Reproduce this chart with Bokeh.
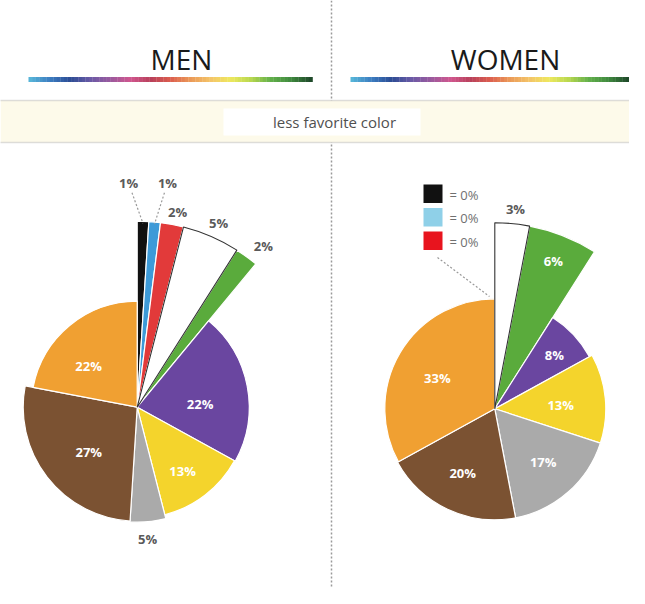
import numpy as np
from bokeh.plotting import figure
from bokeh.models import Range1d, ColumnDataSource
from bokeh.embed import file_html
from bokeh.resources import INLINE
from bokeh.core.properties import value

# ---------------- data ----------------
categories = ["black", "blue", "red", "white", "green", "purple", "yellow", "gray", "brown", "orange"]
men_values = [1, 1, 2, 5, 2, 22, 13, 5, 27, 22]
women_values = [0, 0, 0, 3, 6, 8, 13, 17, 20, 33]
titles = ["MEN", "WOMEN"]
subtitle = "less favorite color"

# ---------------- styles / layout ----------------
FONT = value("Open Sans")
men_fill = ["#111111", "#3d9ad8", "#e23a3a", "#ffffff", "#5aab3c", "#6a46a0",
            "#f4d42c", "#aaaaaa", "#7b5232", "#f0a032"]
women_fill = ["#111111", "#8fd0e8", "#e8141e", "#ffffff", "#5aab3c", "#6a46a0",
              "#f4d42c", "#aaaaaa", "#7b5232", "#f0a032"]
men_radius = [186, 186, 186, 186, 186, 112, 111, 115, 114, 106]
women_radius = [186, 186, 186, 186, 186, 108, 111, 111, 111, 110]
men_label_r = [224, 226, 199, 201, 205, 63, 78, 132, 66, 64]
men_label_da = [-4, 2.3, 0.9, 0.5, 2, 7.5, 2.2, 0.9, -5, -9.8]
men_label_in = [False, False, False, False, False, True, True, False, True, True]
women_label_r = [0, 0, 0, 201, 159, 80, 66, 72, 72, 65]
women_label_da = [0, 0, 0, 0.5, 0, 1.4, 2.4, -0.8, 1.3, -2.7]
women_label_in = [False, False, False, False, True, True, True, True, True, True]

W, H = 629, 588
p = figure(width=W, height=H, output_backend="svg", toolbar_location=None,
           x_range=Range1d(0, W), y_range=Range1d(604 - H, 604),
           min_border=0, background_fill_color="white", border_fill_color="white")
p.axis.visible = False
p.grid.visible = False
p.outline_line_color = None


def Y(ry):
    # reference pixel row -> data y
    return 604 - ry


# vertical dotted divider
p.segment(x0=[331], y0=[Y(0)], x1=[331], y1=[Y(604)], line_color="#9a9a9a",
          line_width=1.5, line_dash="2 2")

# titles
p.text(x=[181, 505], y=[Y(58), Y(58)], text=titles, text_font=FONT, text_font_size="28px",
       text_color="#1a1a1a", text_align="center", text_baseline="middle")


# rainbow bars
stops = ["#56b4d8", "#3b7cc0", "#2c4c94", "#6a5aa6", "#9a5a9e", "#d0568e",
         "#b8405a", "#dc5e4e", "#eb9a58", "#f4c468", "#eee85e", "#b8d84e",
         "#62b04a", "#3f8a3e", "#1f4a2a"]


def hex2rgb(h):
    return np.array([int(h[i:i + 2], 16) for i in (1, 3, 5)], dtype=float)


def interp_colors(n):
    rgb = [hex2rgb(s) for s in stops]
    out = []
    for i in range(n):
        t = i / (n - 1) * (len(rgb) - 1)
        k = min(int(t), len(rgb) - 2)
        f = t - k
        c = rgb[k] * (1 - f) + rgb[k + 1] * f
        out.append("#%02x%02x%02x" % tuple(int(round(v)) for v in c))
    return out


nseg = 80
seg_cols = interp_colors(nseg)
for x0, x1 in [(28, 312), (350, 629)]:
    edges = np.linspace(x0, x1, nseg + 1)
    p.quad(left=edges[:-1], right=edges[1:] + 0.3, bottom=Y(81.5), top=Y(76.5),
           fill_color=seg_cols, line_color=None)

# band
p.quad(left=[0], right=[645], bottom=[Y(142)], top=[Y(100)], fill_color="#fdfaea", line_color=None)
p.segment(x0=[0, 0], y0=[Y(100), Y(142)], x1=[645, 645], y1=[Y(100), Y(142)],
          line_color="#bdbdbd", line_width=1.5, line_dash="1 1")
p.quad(left=[223], right=[420], bottom=[Y(135)], top=[Y(108)], fill_color="white", line_color=None)
p.text(x=[334], y=[Y(121)], text=[subtitle], text_font=FONT, text_font_size="15px",
       text_color="#505050", text_align="center", text_baseline="middle")


def draw_pie(cx, cy_ref, vals, fills, radii, lab_r, lab_da, lab_in):
    cy = Y(cy_ref)
    vals = np.array(vals, dtype=float)
    cum = np.concatenate([[0], np.cumsum(vals)])
    a0 = cum[:-1] / cum[-1] * 2 * np.pi
    a1 = cum[1:] / cum[-1] * 2 * np.pi
    keep = vals > 0
    src = ColumnDataSource(dict(
        x=[cx] * int(keep.sum()), y=[cy] * int(keep.sum()),
        r=list(np.array(radii)[keep]),
        s=list((np.pi / 2 - a1)[keep]), e=list((np.pi / 2 - a0)[keep]),
        fill=list(np.array(fills)[keep]),
    ))
    p.wedge(x="x", y="y", radius="r", start_angle="s", end_angle="e", fill_color="fill",
            line_color="white", line_width=1.2, source=src)
    # outline for white slice
    wi = categories.index("white")
    if vals[wi] > 0:
        p.wedge(x=cx, y=cy, radius=radii[wi], start_angle=np.pi / 2 - a1[wi],
                end_angle=np.pi / 2 - a0[wi], fill_color="white", line_color="#333333",
                line_width=1.1)
    # labels
    lx, ly, lt, lc = [], [], [], []
    pos = {}
    for i, v in enumerate(vals):
        if v <= 0:
            continue
        m = (a0[i] + a1[i]) / 2 + np.deg2rad(lab_da[i])
        x = cx + lab_r[i] * np.sin(m)
        y = cy + lab_r[i] * np.cos(m)
        pos[i] = (x, y, (a0[i] + a1[i]) / 2)
        lx.append(x)
        ly.append(y)
        lt.append("%d%%" % v)
        lc.append("white" if lab_in[i] else "#5a5a5a")
    p.text(x=lx, y=ly, text=lt, text_font=FONT, text_font_size="13px", text_font_style="bold",
           text_color=lc, text_align="center", text_baseline="middle")
    return cx, cy, pos, radii, a0, a1


# MEN pie
mcx, mcy, mpos, mr, ma0, ma1 = draw_pie(136.7, 406.7, men_values, men_fill, men_radius,
                                        men_label_r, men_label_da, men_label_in)
# leader lines for the two 1% labels
for i in (0, 1):
    lxp, lyp, mid = mpos[i]
    tx = mcx + (mr[i] - 2) * np.sin(mid)
    ty = mcy + (mr[i] - 2) * np.cos(mid)
    d = np.array([tx - lxp, ty - lyp])
    u = d / np.linalg.norm(d)
    p.line(x=[lxp + u[0] * 10, tx], y=[lyp + u[1] * 10, ty], line_color="#9a9a9a",
           line_width=1.2, line_dash="2 2")

# WOMEN pie
wcx, wcy, wpos, wr, wa0, wa1 = draw_pie(494.3, 408.3, women_values, women_fill, women_radius,
                                        women_label_r, women_label_da, women_label_in)

# legend for zero-valued women slices
zero_idx = [i for i, v in enumerate(women_values) if v == 0]
sq_top = [184, 207.5, 231]
for k, i in enumerate(zero_idx):
    p.quad(left=[423], right=[442], top=[Y(sq_top[k])], bottom=[Y(sq_top[k] + 18.5)],
           fill_color=women_fill[i], line_color=None)
    p.text(x=[449], y=[Y(sq_top[k] + 10)], text=["= %d%%" % women_values[i]], text_font=FONT,
           text_font_size="13px", text_color="#707070", text_align="left", text_baseline="middle")
p.line(x=[437, 489], y=[Y(257), Y(296)], line_color="#9a9a9a", line_width=1.2, line_dash="2 2")

open("out.html", "w").write(file_html(p, INLINE))
